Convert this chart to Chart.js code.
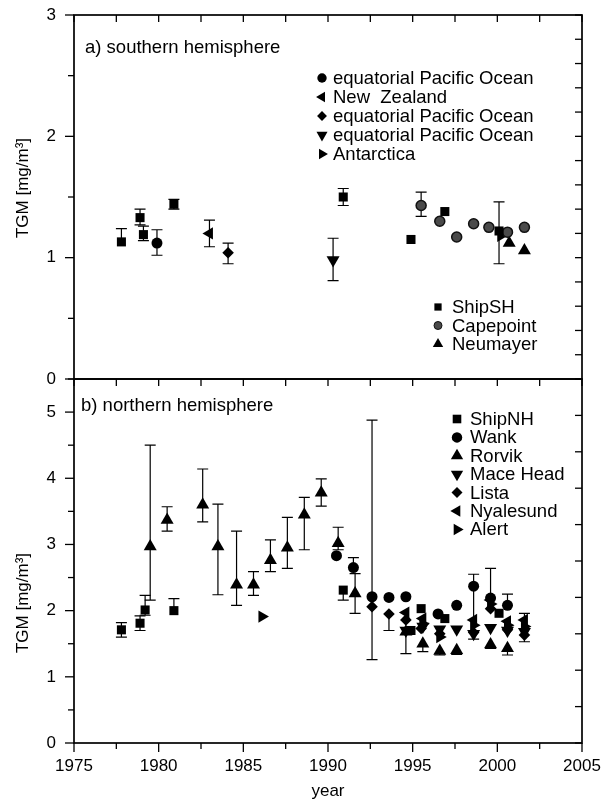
<!DOCTYPE html>
<html>
<head>
<meta charset="utf-8">
<script src="https://cdn.jsdelivr.net/npm/chart.js@4.4.0/dist/chart.umd.min.js"></script>
<style>
  html, body { margin: 0; background: #fff; overflow: hidden; }
  canvas { position: absolute; left: 0; }
  #southChart { top: 0; }
  #northChart { top: 365px; }
</style>
</head>
<body>
<canvas id="southChart" width="615" height="400"></canvas>
<canvas id="northChart" width="615" height="434"></canvas>
<script>
// ---- panel a) southern hemisphere
const shipSHYear  = [1977.8, 1978.9, 1979.1, 1980.9, 1990.9, 1994.9, 1996.9, 2000.1];
const shipSHTgm   = [1.13, 1.33, 1.19, 1.44, 1.50, 1.15, 1.38, 1.22];
const shipSHErrHi = [0.11, 0.07, 0.07, 0.04, 0.07, 0, 0, 0.24];
const shipSHErrLo = [0, 0.06, 0.05, 0.04, 0.07, 0, 0, 0.27];

const eqPacCircleYear = [1979.9];
const eqPacCircleTgm  = [1.12];
const eqPacCircleHi   = [0.11];
const eqPacCircleLo   = [0.10];

const newZealandYear = [1983.0];
const newZealandTgm  = [1.20];
const newZealandHi   = [0.11];
const newZealandLo   = [0.11];

const eqPacDiamondYear = [1984.1];
const eqPacDiamondTgm  = [1.04];
const eqPacDiamondHi   = [0.08];
const eqPacDiamondLo   = [0.09];

const eqPacDownYear = [1990.3];
const eqPacDownTgm  = [0.98];
const eqPacDownHi   = [0.18];
const eqPacDownLo   = [0.17];

const antarcticaYear = [2000.2];
const antarcticaTgm  = [1.18];

const capepointYear = [1995.5, 1996.6, 1997.6, 1998.6, 1999.5, 2000.6, 2001.6];
const capepointTgm  = [1.43, 1.30, 1.17, 1.28, 1.25, 1.21, 1.25];
const capepointHi   = [0.11, 0, 0, 0, 0, 0, 0];
const capepointLo   = [0.09, 0, 0, 0, 0, 0, 0];

const neumayerYear = [2000.7, 2001.6];
const neumayerTgm  = [1.12, 1.06];

// ---- panel b) northern hemisphere
const shipNHYear  = [1977.8, 1978.9, 1979.2, 1980.9, 1990.9, 1994.9, 1995.5, 1996.9, 2000.1];
const shipNHTgm   = [1.71, 1.81, 2.01, 2.00, 2.31, 1.70, 2.03, 1.88, 1.96];
const shipNHErrHi = [0.11, 0.11, 0.22, 0.18, 0, 0, 0, 0, 0];
const shipNHErrLo = [0.11, 0.11, 0.08, 0, 0.15, 0, 0, 0, 0];

const wankYear  = [1990.5, 1991.5, 1992.6, 1993.6, 1994.6, 1996.5, 1997.6, 1998.6, 1999.6, 2000.6];
const wankTgm   = [2.83, 2.65, 2.21, 2.20, 2.21, 1.95, 2.08, 2.37, 2.19, 2.08];
const wankErrHi = [0, 0.15, 2.67, 0, 0, 0, 0, 0.18, 0.45, 0.17];
const wankErrLo = [0, 0, 0.95, 0, 0, 0, 0, 0.80, 0, 0];

const rorvikYear  = [1979.5, 1980.5, 1982.6, 1983.5, 1984.6, 1985.6, 1986.6, 1987.6, 1988.6, 1989.6,
                     1990.6, 1991.6, 1994.6, 1995.6, 1996.6, 1997.6, 1999.6, 2000.6];
const rorvikTgm   = [2.97, 3.37, 3.60, 2.97, 2.39, 2.39, 2.76, 2.95, 3.45, 3.78,
                     3.02, 2.26, 1.68, 1.50, 1.39, 1.40, 1.49, 1.43];
const rorvikErrHi = [1.53, 0.20, 0.54, 0.64, 0.81, 0.20, 0.31, 0.46, 0.26, 0.21,
                     0.24, 0.30, 0, 0, 0, 0, 0, 0];
const rorvikErrLo = [0.81, 0.17, 0.26, 0.73, 0.31, 0.16, 0.17, 0.31, 0.53, 0.20,
                     0.10, 0.30, 0.33, 0.12, 0.06, 0.06, 0.06, 0.10];

const maceHeadYear = [1994.6, 1995.6, 1996.6, 1997.6, 1998.6, 1999.6, 2000.6, 2001.6];
const maceHeadTgm  = [1.70, 1.76, 1.72, 1.72, 1.65, 1.74, 1.70, 1.68];

const listaYear  = [1992.6, 1993.6, 1994.6, 1995.5, 1996.6, 1998.6, 1999.6, 2000.6, 2001.6];
const listaTgm   = [2.06, 1.95, 1.86, 1.73, 1.65, 1.67, 2.03, 1.71, 1.63];
const listaErrHi = [0, 0, 0, 0, 0, 0, 0, 0, 0.33];
const listaErrLo = [0, 0.25, 0, 0, 0, 0, 0, 0, 0.10];

const nyalesundYear = [1994.6, 1995.6, 1998.6, 1999.6, 2000.6, 2001.6];
const nyalesundTgm  = [1.97, 1.88, 1.86, 2.16, 1.84, 1.86];

const alertYear = [1986.1, 1995.6, 1996.6, 1998.6, 1999.6, 2000.6, 2001.6];
const alertTgm  = [1.91, 1.80, 1.60, 1.78, 2.10, 1.78, 1.76];

const yearTicks = [1975, 1980, 1985, 1990, 1995, 2000, 2005];

// marker looks
const MARKS = {
  square:   { pointStyle: 'rect', radius: 6.4 },
  circle:   { pointStyle: 'circle', radius: 5.5 },
  triUp:    { pointStyle: 'triangle', radius: 7.5, rotation: 0 },
  triDown:  { pointStyle: 'triangle', radius: 7.5, rotation: 180 },
  triLeft:  { pointStyle: 'triangle', radius: 7, rotation: 270 },
  triRight: { pointStyle: 'triangle', radius: 7, rotation: 90 },
  diamond:  { pointStyle: 'rectRot', radius: 5.8 },
  cape:     { pointStyle: 'circle', radius: 5, fill: '#4a4a4a', line: '#111', bw: 1.5 }
};
const FONT = "'Liberation Sans', Arial, sans-serif";

Chart.defaults.font.family = FONT;
Chart.defaults.color = '#000';

function series(label, years, tgm, hi, lo, mark) {
  const m = MARKS[mark];
  return {
    label: label,
    data: years.map((yr, i) => ({ x: yr, y: tgm[i] })),
    errHi: hi || [],
    errLo: lo || [],
    pointStyle: m.pointStyle,
    rotation: m.rotation || 0,
    pointRadius: m.radius,
    pointHoverRadius: m.radius,
    backgroundColor: m.fill || '#000',
    borderColor: m.line || '#000',
    borderWidth: m.bw || 0,
    showLine: false
  };
}

// error bars with caps
function drawErrorBars(chart) {
  const ctx = chart.ctx;
  const ys = chart.scales.y;
  ctx.save();
  ctx.strokeStyle = '#000';
  ctx.lineWidth = 1.2;
  chart.data.datasets.forEach((ds, i) => {
    const meta = chart.getDatasetMeta(i);
    ds.data.forEach((p, j) => {
      const pt = meta.data[j];
      const hi = ds.errHi[j] || 0, lo = ds.errLo[j] || 0;
      [[hi, 1], [lo, -1]].forEach(([e, sign]) => {
        if (!e) return;
        const yEnd = ys.getPixelForValue(p.y + sign * e);
        ctx.beginPath();
        ctx.moveTo(pt.x, pt.y);
        ctx.lineTo(pt.x, yEnd);
        ctx.moveTo(pt.x - 5.5, yEnd);
        ctx.lineTo(pt.x + 5.5, yEnd);
        ctx.stroke();
      });
    });
  });
  ctx.restore();
}

function tick(ctx, x1, y1, x2, y2) {
  ctx.beginPath();
  ctx.moveTo(x1, y1);
  ctx.lineTo(x2, y2);
  ctx.stroke();
}

function drawFrame(chart, panel) {
  const { ctx, chartArea: a } = chart;
  const xs = chart.scales.x, ys = chart.scales.y;
  ctx.save();
  ctx.strokeStyle = '#000';
  ctx.lineWidth = 1.3;
  // left: outward, major 1, minor 0.5
  for (let v = 0; v <= ys.max + 1e-9; v += 0.5) {
    const py = ys.getPixelForValue(v);
    tick(ctx, a.left - (Number.isInteger(v) ? 9 : 6), py, a.left, py);
  }
  // right: inward
  for (let k = 0; k <= panel.rightDivs; k++) {
    const py = ys.getPixelForValue(ys.max * k / panel.rightDivs);
    tick(ctx, a.right - 7, py, a.right, py);
  }
  // top: inward every 2.5 years
  for (let yr = 1975; yr <= 2005; yr += 2.5) {
    const px = xs.getPixelForValue(yr);
    tick(ctx, px, a.top, px, a.top + 7);
  }
  if (panel.bottomTicks) {
    for (let yr = 1975; yr <= 2005; yr += 2.5) {
      const px = xs.getPixelForValue(yr);
      tick(ctx, px, a.bottom, px, a.bottom + (yr % 5 === 0 ? 9 : 6));
    }
  }
  ctx.lineWidth = 1.7;
  ctx.strokeRect(a.left, a.top, a.right - a.left, a.bottom - a.top);

  // y title
  ctx.fillStyle = '#000';
  ctx.font = '17px ' + FONT;
  ctx.textAlign = 'center';
  ctx.textBaseline = 'middle';
  ctx.translate(23, panel.titleY);
  ctx.rotate(-Math.PI / 2);
  ctx.fillText('TGM [mg/m³]', 0, 0);
  ctx.restore();
}

function drawTexts(chart, panel) {
  const ctx = chart.ctx;
  ctx.save();
  ctx.fillStyle = '#000';
  ctx.strokeStyle = '#000';
  ctx.textAlign = 'left';
  ctx.textBaseline = 'alphabetic';
  ctx.font = '18.5px ' + FONT;
  ctx.fillText(panel.label, panel.labelX, panel.labelY);
  panel.legends.forEach(lg => {
    lg.items.forEach((it, k) => {
      const base = lg.y + k * lg.step;
      const m = MARKS[it[1]];
      ctx.fillStyle = m.fill || '#000';
      ctx.strokeStyle = m.line || '#000';
      Chart.helpers.drawPoint(ctx, {
        pointStyle: m.pointStyle,
        rotation: m.rotation || 0,
        radius: m.radius * lg.scale,
        borderWidth: m.bw || 0
      }, lg.markX, base - 6);
      ctx.fillStyle = '#000';
      ctx.fillText(it[0], lg.textX, base);
    });
  });
  ctx.restore();
}

function panelPlugin(panel) {
  return {
    id: 'panel' + panel.name,
    beforeDatasetsDraw(chart) { drawErrorBars(chart); },
    afterDraw(chart) { drawFrame(chart, panel); drawTexts(chart, panel); }
  };
}

function yScale(max) {
  return {
    min: 0, max: max,
    afterFit: s => { s.width = 74; s.paddingTop = 0; s.paddingBottom = 0; },
    grid: { display: false, drawTicks: false },
    border: { display: false },
    ticks: {
      stepSize: 0.5, padding: 18, color: '#000', font: { size: 17 },
      callback: v => Number.isInteger(v) ? String(v) : ''
    }
  };
}

const southPanel = {
  name: 'South', rightDivs: 15, bottomTicks: false, titleY: 188,
  label: 'a) southern hemisphere', labelX: 85, labelY: 53,
  legends: [
    { markX: 322, textX: 333, y: 84, step: 19, scale: 0.85,
      items: [['equatorial Pacific Ocean', 'circle'], ['New  Zealand', 'triLeft'],
              ['equatorial Pacific Ocean', 'diamond'], ['equatorial Pacific Ocean', 'triDown'],
              ['Antarctica', 'triRight']] },
    { markX: 438, textX: 452, y: 313, step: 18.5, scale: 0.8,
      items: [['ShipSH', 'square'], ['Capepoint', 'cape'], ['Neumayer', 'triUp']] }
  ]
};

const northPanel = {
  name: 'North', rightDivs: 10, bottomTicks: true, titleY: 603 - 365,
  label: 'b) northern hemisphere', labelX: 81, labelY: 411 - 365,
  legends: [
    { markX: 457, textX: 470, y: 425 - 365, step: 18.4, scale: 0.95,
      items: [['ShipNH', 'square'], ['Wank', 'circle'], ['Rorvik', 'triUp'], ['Mace Head', 'triDown'],
              ['Lista', 'diamond'], ['Nyalesund', 'triLeft'], ['Alert', 'triRight']] }
  ]
};

new Chart(document.getElementById('southChart'), {
  type: 'scatter',
  data: {
    datasets: [
      series('ShipSH', shipSHYear, shipSHTgm, shipSHErrHi, shipSHErrLo, 'square'),
      series('equatorial Pacific Ocean', eqPacCircleYear, eqPacCircleTgm, eqPacCircleHi, eqPacCircleLo, 'circle'),
      series('New Zealand', newZealandYear, newZealandTgm, newZealandHi, newZealandLo, 'triLeft'),
      series('equatorial Pacific Ocean', eqPacDiamondYear, eqPacDiamondTgm, eqPacDiamondHi, eqPacDiamondLo, 'diamond'),
      series('equatorial Pacific Ocean', eqPacDownYear, eqPacDownTgm, eqPacDownHi, eqPacDownLo, 'triDown'),
      series('Capepoint', capepointYear, capepointTgm, capepointHi, capepointLo, 'cape'),
      series('Antarctica', antarcticaYear, antarcticaTgm, null, null, 'triRight'),
      series('Neumayer', neumayerYear, neumayerTgm, null, null, 'triUp')
    ]
  },
  options: {
    responsive: false,
    animation: false,
    layout: { padding: { top: 15, right: 33, bottom: 21, left: 0 } },
    plugins: { legend: { display: false }, tooltip: { enabled: false } },
    scales: {
      x: { type: 'linear', min: 1975, max: 2005, display: false },
      y: yScale(3)
    }
  },
  plugins: [panelPlugin(southPanel)]
});

new Chart(document.getElementById('northChart'), {
  type: 'scatter',
  data: {
    datasets: [
      series('ShipNH', shipNHYear, shipNHTgm, shipNHErrHi, shipNHErrLo, 'square'),
      series('Wank', wankYear, wankTgm, wankErrHi, wankErrLo, 'circle'),
      series('Rorvik', rorvikYear, rorvikTgm, rorvikErrHi, rorvikErrLo, 'triUp'),
      series('Mace Head', maceHeadYear, maceHeadTgm, null, null, 'triDown'),
      series('Lista', listaYear, listaTgm, listaErrHi, listaErrLo, 'diamond'),
      series('Nyalesund', nyalesundYear, nyalesundTgm, null, null, 'triLeft'),
      series('Alert', alertYear, alertTgm, null, null, 'triRight')
    ]
  },
  options: {
    responsive: false,
    animation: false,
    layout: { padding: { top: 14, right: 33, bottom: 0, left: 0 } },
    plugins: { legend: { display: false }, tooltip: { enabled: false } },
    scales: {
      x: {
        type: 'linear', min: 1975, max: 2005,
        afterFit: s => { s.height = 56; s.paddingLeft = 0; s.paddingRight = 0; },
        afterBuildTicks: s => { s.ticks = yearTicks.map(v => ({ value: v })); },
        grid: { display: false, drawTicks: false },
        border: { display: false },
        ticks: { padding: 13, color: '#000', font: { size: 17 }, maxRotation: 0, callback: v => String(v) },
        title: { display: true, text: 'year', font: { size: 17 }, padding: { top: 0, bottom: -3 } }
      },
      y: yScale(5.5)
    }
  },
  plugins: [panelPlugin(northPanel)]
});
</script>
</body>
</html>
